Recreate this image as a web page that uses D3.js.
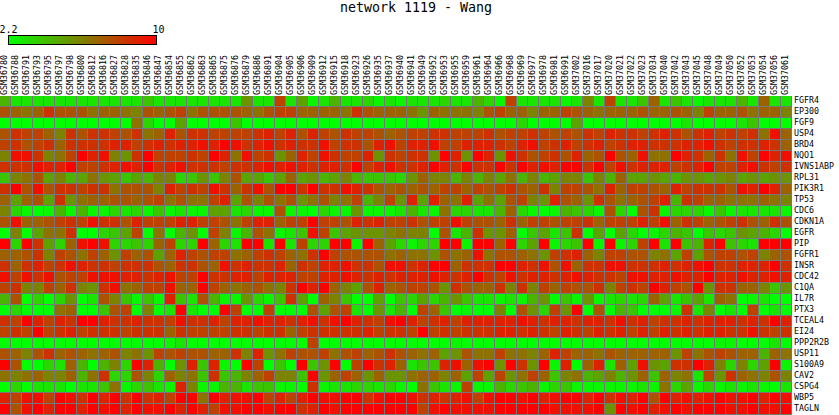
<!DOCTYPE html>
<html><head><meta charset="utf-8">
<script src="https://cdnjs.cloudflare.com/ajax/libs/d3/7.8.5/d3.min.js"></script>
<style>html,body{margin:0;padding:0;background:#fff;overflow:hidden}svg{display:block}text{font-family:"DejaVu Sans Mono",monospace;fill:#000;text-rendering:optimizeSpeed}</style>
</head><body><div id="chart"></div>
<script>
const title = "network 1119 - Wang";
const legendMin = 2.2, legendMax = 10;
const samples = [36780,36788,36791,36793,36795,36797,36798,36800,36812,36816,36827,36828,36835,36846,36847,36854,36855,36862,36863,36865,36875,36876,36879,36886,36891,36904,
36905,36906,36909,36912,36915,36918,36923,36926,36935,36937,36940,36941,36949,36952,36953,36955,36959,36961,36964,36966,36968,36969,36977,36978,36981,
36991,37002,37016,37017,37020,37021,37022,37023,37034,37040,37042,37043,37045,37048,37049,37050,37052,37053,37054,37056,37061].map(d=>"GSM"+d);
const genes = ["FGFR4","EP300","FGF9","USP4","BRD4","NQO1","IVNS1ABP","RPL31","PIK3R1","TP53","CDC6","CDKN1A","EGFR","PIP","FGFR1","INSR","CDC42","C1QA","IL7R","PTX3","TCEAL4","EI24","PPP2R2B","USP11","S100A9","CAV2","CSPG4","WBP5","TAGLN"];

const FGFR4 = [4.5,3,3,3,3,3,3,3,3,3,3,3,3,4,3,3,3,3,3,3,3,3,5.5,3,3,8,
3,5,2.5,3,4.5,3,3,3.5,2.5,3,2.5,3,3,3,3.5,3,3,4.5,3.5,2.5,8,3,3,3,3,
2.5,3,6,3,8,3,3,4,7,3,4,3,2.5,3,3,3,4.5,3,7,3,3];
const EP300 = [7.5,7,6.5,7,8.5,7.5,7.5,7.5,6.5,7,7,6.5,6,7.5,7,7.5,8,6.5,7.5,7.5,7.5,7.5,7,6.5,7.5,8,
8,7,7,7,7,6.5,8.5,7.5,7,7,7,6.5,5.5,7,6.5,6.5,6.5,6,7.5,8,7,7,6,7,7,
8,7.5,7,6.5,7,7,7,7.5,7,7,7.5,7,6,8,7,7,7.5,6.5,7,7,6];
const FGF9 = [2.2,2.2,2.2,2.2,2.2,2.2,2.2,2.2,2.2,2.2,2.2,2.2,6.5,3.5,2.2,2.2,5,2.2,2.2,2.2,2.2,4,2.2,2.2,2.2,2.2,
2.2,2.2,2.2,2.2,2.2,2.2,2.2,2.2,2.2,2.2,2.2,2.2,2.2,2.2,2.2,2.2,2.2,2.2,2.2,2.2,2.2,3.5,2.2,2.2,2.2,
2.2,5,2.2,2.2,2.2,2.2,2.2,2.2,2.2,2.2,2.2,3,2.2,2.2,2.2,2.2,3,4,2.2,2.2,2.2];
const USP4 = [7.5,8.5,8,8,7,6,8.5,7.5,8.5,8.5,8,7.5,8.5,6.5,7,9,7.5,8.5,8.5,8,8,8,8,8.5,9,8,
9,7.5,9,8,7.5,8.5,8,8,7.5,7,7.5,8,8,8.5,8.5,8,8,8,8.5,7.5,8,8,8.5,8,7.5,
8,7.5,8.5,8,9,8.5,8.5,8,8.5,9,8.5,7.5,8.5,9,8,8.5,8,8.5,6.5,9.5,7];
const BRD4 = [8,8.5,7.5,8,8.5,7,8.5,8.5,8.5,8.5,9,9,8,8.5,9,8.5,9,9,9.5,9,10,9.5,8.5,9,9.5,8.5,
9,8.5,8.5,9.5,8,8.5,8.5,7.5,9,9.5,8,9,9,9.5,8,8,9,9,9,8.5,8,9,9.5,8,8.5,
9,8,8.5,9,8,8.5,9,9,8.5,8.5,8.5,9,9,9.5,8.5,8,8.5,8.5,9,8.5,7];
const NQO1 = [6,9.5,9.5,8.5,6,6.5,8,10,9,9.5,6,5.5,8.5,10,8,8,8,8.5,8,10,9,6.5,9.5,8,8.5,5.5,
7,9,8,9.5,8.5,8,8,9,5.5,8.5,8,8.5,8.5,5.5,10,9,5.5,10,9,5.5,9.5,8.5,7.5,8,8.5,
7.5,9,7,7.5,10,7.5,7,9.5,6.5,6.5,10,9,8.5,7,8.5,6.5,9.5,8,10,9,9.5];
const IVNS1ABP = [8.5,8.5,8.5,9.5,9,9,10,8,8,8.5,9,9.5,9,10,8.5,9,9.5,8.5,8.5,8.5,8,8.5,8.5,9,9.5,9,
9.5,9,8.5,9,9,8.5,10,8,9,9.5,8.5,8.5,9,10,9,8.5,10,8.5,8.5,10,8.5,10,9,9.5,9,
10,10,8.5,10,8,9.5,8.5,9,9,9,8,8.5,9,10,8,8,9,9.5,8.5,8,8.5];
const RPL31 = [4,6,6.5,7.5,5,6,4.5,5,6.5,5.5,5,4,5,4.5,6,6,3.5,4,5.5,4,6,7.5,5,5,4,5,
7,5,5.5,4.5,5,6,4.5,4,4,4,3.5,5.5,7,6,6,4.5,6,4.5,6,5,6.5,4.5,6,4.5,5,
6,6,4,6,4.5,7,5,5,5.5,5,4.5,5.5,5.5,5,5.5,6,5,5.5,5,5.5,5.5];
const PIK3R1 = [8.5,10,7.5,9.5,7.5,8.5,8.5,8,8.5,8.5,6.5,7.5,7.5,7.5,6,9,8,8.5,8,9.5,8.5,7,8.5,9.5,7.5,10,
10,8.5,10,8.5,8.5,9.5,9,8.5,7.5,7,7.5,7,7.5,7,8,8,7,8,7.5,8,8.5,7.5,7,8.5,6,
8,8,7.5,6.5,9,7,8,8,7.5,7,9,8,8.5,8.5,8.5,7.5,9.5,9,10,9,7];
const TP53 = [7,5,7,7.5,5,8.5,5.5,6.5,7,7,7.5,7.5,7,7.5,8,6.5,7.5,6.5,6.5,8,9,5,7.5,6,7.5,6.5,
7.5,5.5,6.5,7.5,6,6.5,8,4.5,6,8,5.5,9,5,9,7,6.5,9,5,6.5,5,7.5,8,6,5.5,9,
7.5,7,5.5,8.5,7.5,6.5,7,7.5,8,9,4.5,8.5,8,7,7,6.5,6.5,6.5,7,6.5,6];
const CDC6 = [6,3.5,2.5,2.2,2.5,4.5,2.5,4.5,2.5,2.5,3.5,3,3.5,2.5,4,2.5,3,2.5,2.5,5,5,3,3.5,2.5,2.5,7.5,
2.5,2.5,2.2,3.5,2.5,2.5,5.5,2.5,2.5,2.5,3,4.5,3,2.5,6.5,3.5,3.5,3,3,4.5,7,3.5,2.5,2.2,2.5,
4.5,4,3.5,2.5,7.5,3.5,2.2,7.5,8.5,2.5,3.5,3.5,3.5,2.5,4,2.5,3,3,3,3,2.5];
const CDKN1A = [7.5,9.5,7,7,7.5,8,8.5,8,9.5,8.5,8.5,7.5,9,8,8,8,9,9,8,8,7.5,6.5,8,9,9,7,
8,8,10,8,8,7.5,9,8.5,9,8,8,8.5,7.5,8,8,9.5,8,7.5,7.5,7,8.5,7,8,8,7.5,
8,8,8.5,7,8,8,8,9,8,9.5,7,8.5,8,7,7.5,8,8.5,7.5,7,8.5,7.5];
const EGFR = [2.2,6,2.2,5,6.5,6.5,8.5,2.2,2.2,3.5,4,5,8,2.2,6.5,2.2,4.5,5.5,2.2,8,6,2.5,4.5,7.5,6.5,2.5,
3,4,9.5,8,4,5,5.5,5.5,5.5,6,6.5,6,6,2.2,7.5,3,4.5,8.5,5.5,5.5,7,2.2,4,5,3,
4,8.5,2.2,5,2.2,5,3.5,2.2,2.5,3.5,4.5,4,2.2,4,3.5,4,5.5,5,4.5,3.5,2.2];
const PIP = [10,3.5,10,8.5,5,3.5,7,9.5,10,9.5,3.5,3.5,4,3.5,7,8,3.5,3.5,10,7,3.5,3,10,10,3,10,
3,8,3.5,3.5,10,10,2.5,10,7,5,3.5,2.5,3.5,3.5,10,10,2.5,10,10,7,10,3.5,5,10,2.5,
3.5,4,10,2.5,10,2.5,3.5,8,10,3,10,4,4.5,9,10,4,3.5,3,10,10,10];
const FGFR1 = [7,7,7.5,8.5,6,8,7.5,6.5,8,7,5.5,8,7,7.5,5,7,9,8,7.5,8,8,6.5,7,8,8.5,8,
7,6.5,8.5,10,8,7.5,7.5,7.5,7.5,6.5,7,6.5,6.5,5.5,7.5,6.5,7,9.5,6.5,7.5,7.5,7,6.5,5.5,8,
8.5,9,7,6,8,8,7.5,7.5,6,6.5,5,8,5,7.5,8,8,7.5,8,6,7,7.5];
const INSR = [8.5,7,8.5,9,8,8.5,9.5,9,8.5,8.5,8,8.5,8.5,8.5,7.5,7,8.5,8.5,7.5,7,9.5,8.5,9,8.5,8.5,9,
7,8.5,8,9,9,9.5,8.5,8.5,7.5,9.5,9.5,8.5,9,10,10,7,8.5,8.5,8.5,10,10,9,8.5,9.5,7.5,
9.5,7,8.5,8.5,9.5,9.5,8.5,8.5,8.5,9,8.5,9,9.5,10,8.5,8.5,9,9,9,10,8.5];
const CDC42 = [9.5,8,9.5,8.5,9.5,7.5,8,8,9.5,9.5,9.5,9,9,8.5,9,9.5,8,8,10,8.5,8.5,9,9,8,9,9,
9,8,8,9,9,9.5,9,8.5,9,8.5,9,9,9,9.5,9,8.5,9,10,8.5,8,9.5,8.5,9,9,8.5,
9,9.5,9,8.5,8.5,8,9.5,9.5,9,9,9.5,9,9,10,9,9,9.5,9,9,9.5,9];
const C1QA = [8,8.5,6,6,8,7,8.5,6,5.5,8.5,9.5,6.5,7,8,8,9.5,7,7,10,8,7,6.5,7,7.5,6.5,6,
8.5,10,9,10,7,6,5,7.5,9,7,7.5,8,8,7.5,5.5,8.5,7.5,7,7,8.5,6,8.5,6,8,7,
8,7.5,7.5,8.5,6,8,8.5,8,10,9,8,7.5,10,5.5,8.5,8.5,7,7,6,4,5.5];
const IL7R = [4.5,7.5,2.2,3.5,2.2,3.5,5.5,2.2,3,7.5,6,4,2.5,4,2.5,9,4,3,7.5,4.5,2.5,2.5,5.5,3.5,2.5,4,
8.5,5,2.2,7,6,4,2.2,2.2,5,2.2,4,3.5,5,3.5,4.5,5.5,4,3,3,2.5,3,2.5,4.5,5.5,2.2,
4,2.5,5.5,2.5,3,3.5,3,3.5,7,5,3,4,5,3,7,6.5,2.2,2.5,3,2.2,2.2];
const PTX3 = [2.2,3.5,2.2,2.2,2.2,6.5,7,2.2,2.2,4,7.5,8,2.2,6,2.2,3,10,3,2.2,2.2,10,8,2.2,2.2,8,2.2,
2.2,2.2,7.5,5,7.5,8,3,2.2,5.5,3,4.5,2.2,8,7,4,2.2,2.5,2.2,2.2,6,2.2,7.5,5.5,3.5,8,
5.5,10,2.2,7.5,2.2,4.5,4,2.2,2.2,2.2,2.5,8.5,3,6,2.2,3,2.2,8,2.2,3,2.2];
const TCEAL4 = [8.5,8,10,9,8,9,8.5,10,10,9,8.5,8.5,9,8.5,8.5,8,9.5,8.5,8.5,9,8,9,9,9.5,9,9,
8.5,9,9.5,8.5,9.5,10,9,8.5,8,9.5,10,9,8,8.5,9,8,9,9,9,9,9,9.5,9,8.5,9,
9,8.5,9,9,8.5,9.5,8.5,9,8,8.5,8.5,9,8.5,9,9,9,8.5,9,8.5,10,9];
const EI24 = [8,8.5,8,10,8,8.5,9,8,8.5,8.5,8.5,8,8.5,8.5,8.5,7,8.5,8,8,8,8,8.5,8.5,8,8.5,8.5,
7,8,8.5,8.5,8.5,8.5,8.5,9,8,8.5,8.5,8,10,8,8.5,8,8.5,8.5,8.5,9,9,8.5,9,8.5,8,
9,8.5,8,9,8.5,9,8,9,8,9,8.5,9,8.5,9,9,8.5,8.5,9.5,8.5,8,8.5];
const PPP2R2B = [2.2,2.2,2.2,2.2,2.2,2.2,2.2,2.2,2.2,2.2,2.2,2.2,2.2,2.2,2.2,2.5,3,2.2,2.2,2.2,2.2,2.2,2.2,2.2,2.2,2.2,
2.2,2.2,8,2.2,2.2,2.2,2.2,2.2,2.2,2.2,2.2,2.2,2.2,2.2,2.2,2.5,2.2,2.2,2.2,2.2,2.2,2.2,2.2,2.2,2.2,
2.2,2.2,2.2,2.2,2.2,2.2,2.2,2.2,2.2,2.2,2.2,2.2,2.2,2.2,2.5,2.5,2.2,2.2,2.2,3,2.2];
const USP11 = [7.5,7,6,7.5,8.5,7,7.5,7,6.5,7,7.5,6,6.5,5.5,8,7.5,8,7.5,7.5,7,7,8.5,6,9,5.5,6.5,
8,7.5,7.5,8,6.5,7.5,8,7,7.5,8.5,7.5,7,6.5,7,5,5.5,7.5,6.5,6.5,8,6.5,6.5,6,7,9,
8,7,7,6.5,7.5,7,7,7,7,7,5.5,8,6.5,7.5,8,7.5,7,7,4.5,7,6.5];
const S100A9 = [10,7.5,2.2,2.2,3.5,3,7,4.5,2.2,4.5,6,3.5,10,9,4.5,2.2,5.5,9,4,9,2.5,2.2,10,8,2.2,4,
2.2,10,4,5.5,10,2.2,8,10,8.5,9,7,3,4,4,9,9.5,7,9.5,10,5.5,10,8.5,5.5,10,2.5,
9,2.2,7,9,3,7,5,9.5,5.5,5,8.5,8.5,10,9,6,3.5,6,3.5,5,10,2.5];
const CAV2 = [6.5,6,6.5,7,6,6,7,4.5,6.5,8.5,3.5,3.5,7.5,6,3.5,7,6,6.5,4,8.5,4,4.5,6,7,8,6,
6,4,10,5.5,7,8,7,5.5,7,5.5,5.5,6.5,7,7,6,7,5,8,5,8,5.5,6.5,8,7,4,
6,6.5,4.5,5,6,4.5,5.5,7,4,7,6,6.5,3,8,5.5,8.5,7,6.5,6,7.5,6];
const CSPG4 = [2.2,3.5,2.2,3,3,3,2.2,3,3,4,6.5,2.5,3.5,4,3,2.5,9,6,2.5,2.5,4.5,4.5,3,4,4,2.5,
2.5,2.2,8.5,2.5,3,3,3.5,3.5,3,3.5,2.5,2.2,6.5,4,3,2.5,8,2.5,2.5,4.5,3.5,4,4.5,2.5,3.5,
4,2.5,2.5,2.5,2.5,2.5,2.5,3,2.5,6.5,3.5,5,2.5,3.5,2.5,3,2.5,3,2.5,2.2,3];
const WBP5 = [9,8,9.5,9.5,8,10,9.5,8.5,10,9,10,8.5,10,8.5,9,8,10,10,6.5,10,9,9.5,9.5,10,8,9,
8,9,10,9.5,9.5,10,10,8.5,9.5,10,10,9.5,8.5,9,8.5,9,9.5,8,9.5,10,10,9.5,10,9,9.5,
10,10,9,10,8.5,9.5,9,10,7.5,10,9,9.5,9,9.5,10,9.5,9.5,10,9,10,9.5];
const TAGLN = [10,7.5,9.5,10,9,10,10,9,10,9.5,10,9,10,9.5,9.5,10,9,10,9,8,9.5,9.5,10,10,9.5,10,
10,8.5,9,10,9.5,10,10,10,10,10,10,10,8,9.5,10,9.5,9.5,9.5,9.5,10,10,10,10,10,9.5,
9.5,9.5,9.5,10,5.5,10,9.5,10,9,9.5,10,9.5,10,10,10,9.5,9.5,10,9.5,9.5,10];

const rows = [FGFR4,EP300,FGF9,USP4,BRD4,NQO1,IVNS1ABP,RPL31,PIK3R1,TP53,CDC6,CDKN1A,EGFR,PIP,FGFR1,INSR,CDC42,C1QA,IL7R,PTX3,TCEAL4,EI24,PPP2R2B,USP11,S100A9,CAV2,CSPG4,WBP5,TAGLN];

const W = 839, H = 415;
const svg = d3.select("#chart").append("svg").attr("width", W).attr("height", H).attr("viewBox", `0 0 ${W} ${H}`);
const x = d3.scaleBand().domain(samples).range([0, 792]);
const y = d3.scaleBand().domain(genes).range([96, 415]);
const color = d3.scaleLinear().domain([legendMin, legendMax]).range(["#00ff00", "#ff0000"]).clamp(true);

svg.append("text").attr("x", 416).attr("y", 12).attr("text-anchor", "middle").style("font-size", "13.3px").text(title);

// legend
const lx = d3.scaleLinear().domain([legendMin, legendMax]).range([8.5, 156.5]);
const defs = svg.append("defs");
const grad = defs.append("linearGradient").attr("id", "lg");
grad.selectAll("stop").data([legendMin, legendMax]).join("stop")
  .attr("offset", d => (d - legendMin) / (legendMax - legendMin)).attr("stop-color", d => color(d));
svg.append("rect").attr("x", lx(legendMin)).attr("y", 35.5).attr("width", lx(legendMax) - lx(legendMin)).attr("height", 9)
  .attr("fill", "url(#lg)").attr("stroke", "#000").attr("stroke-width", 1);
svg.selectAll("text.leg").data([legendMin, legendMax]).join("text").attr("class", "leg")
  .attr("x", d => lx(d) + (d === legendMin ? 0 : 2)).attr("y", 33).attr("text-anchor", "middle").style("font-size", "10px").text(d => d);

// sample labels
svg.selectAll("text.s").data(samples).join("text").attr("class", "s")
  .attr("transform", d => `translate(${x(d) + 7},95) rotate(-90)`).style("font-size", "8.3px").text(d => d);

// grid backing
svg.append("rect").attr("x", x.range()[0]).attr("y", y.range()[0]).attr("width", x.range()[1]).attr("height", y.range()[1] - y.range()[0]).attr("fill", "#777777");

// cells
const g = svg.selectAll("g.r").data(rows).join("g").attr("class", "r").attr("transform", (d, i) => `translate(0,${y(genes[i])})`);
g.selectAll("rect").data(d => d).join("rect")
  .attr("x", (d, j) => x(samples[j])).attr("width", x.bandwidth() - 1).attr("height", y.bandwidth() - 1)
  .attr("fill", d => color(d));

// gene labels
svg.selectAll("text.g").data(genes).join("text").attr("class", "g")
  .attr("x", 794).attr("y", d => y(d) + 7).style("font-size", "8.3px").text(d => d);
</script></body></html>
